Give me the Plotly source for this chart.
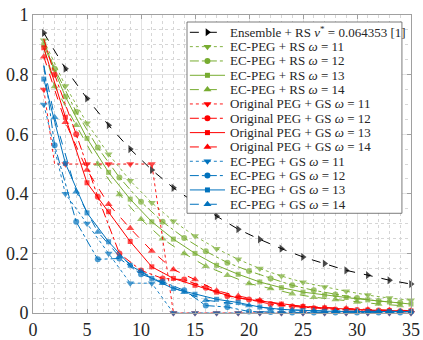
import plotly.graph_objects as go

# marker positions
ODD = [1, 3, 5, 7, 9, 11, 13, 15, 17, 19, 21, 23, 25, 27, 29, 31, 33, 35]
EVEN = [1, 2, 4, 6, 8, 10, 12, 14, 16, 18, 20, 22, 24, 26, 28, 30, 32, 34]
STEP = [1, 2, 3, 5, 7, 9, 11, 13, 15, 17, 19, 21, 23, 25, 27, 29, 31, 33, 35]

ensemble = [0.94, 0.82, 0.72, 0.63, 0.55, 0.48, 0.42, 0.37, 0.325, 0.281, 0.247,
            0.216, 0.188, 0.166, 0.143, 0.127, 0.11, 0.097]

rs_w11 = [0.915, 0.762, 0.637, 0.533, 0.444, 0.37, 0.308, 0.258, 0.216, 0.18, 0.149,
          0.124, 0.103, 0.087, 0.073, 0.06, 0.05, 0.043]
rs_w12 = [0.91, 0.82, 0.675, 0.555, 0.455, 0.373, 0.306, 0.252, 0.207, 0.169, 0.141,
          0.116, 0.093, 0.076, 0.062, 0.05, 0.04, 0.034]
rs_w13 = [0.90, 0.726, 0.586, 0.472, 0.382, 0.306, 0.248, 0.2, 0.16, 0.13, 0.104,
          0.085, 0.07, 0.06, 0.052, 0.044, 0.037, 0.03]
rs_w14 = [0.89, 0.76, 0.63, 0.5, 0.398, 0.315, 0.249, 0.2, 0.157, 0.127, 0.099,
          0.082, 0.065, 0.053, 0.045, 0.037, 0.03, 0.025]

orig_w11 = [0.75, 0.5, 0.5, 0.5, 0.5, 0.5, 0.5, 0, 0, 0, 0, 0, 0, 0, 0, 0, 0, 0, 0]
orig_w12 = [0.92, 0.8, 0.6, 0.39, 0.2, 0.143, 0.116, 0.112, 0.085, 0.057, 0.045,
            0.03, 0.022, 0.016, 0.012, 0.01, 0.008, 0.006]
orig_w13 = [0.89, 0.657, 0.437, 0.34, 0.24, 0.155, 0.116, 0.093, 0.07, 0.05, 0.04,
            0.03, 0.022, 0.017, 0.013, 0.01, 0.008, 0.007]
orig_w14 = [0.86, 0.64, 0.48, 0.365, 0.284, 0.208, 0.146, 0.112, 0.075, 0.057, 0.043,
            0.028, 0.022, 0.018, 0.015, 0.012, 0.01, 0.008]

gs_w11 = [0.70, 0.40, 0.30, 0.20, 0.10, 0.10, 0, 0, 0, 0, 0, 0, 0, 0, 0, 0, 0, 0]
gs_w12 = [0.83, 0.563, 0.306, 0.18, 0.183, 0.13, 0.105, 0.076, 0.025, 0.02, 0.005,
          0.003, 0.002, 0.002, 0.002, 0.002, 0.002, 0.002]
gs_w13 = [0.785, 0.502, 0.336, 0.239, 0.16, 0.116, 0.082, 0.063, 0.046, 0.035, 0.02,
          0.012, 0.008, 0.006, 0.005, 0.005, 0.005, 0.005]
gs_w14 = [0.83, 0.657, 0.407, 0.272, 0.19, 0.14, 0.1, 0.07, 0.043, 0.035, 0.025,
          0.015, 0.01, 0.008, 0.006, 0.006, 0.006, 0.006]

X_TICKS = [0, 5, 10, 15, 20, 25, 30, 35]
Y_TICKS = [0, 0.2, 0.4, 0.6, 0.8, 1]

GREEN = "#77AC30"
RED = "#FF0000"
BLUE = "#0072BD"
FONT = "'Liberation Serif', 'DejaVu Serif', serif"

# (label, x, y, parity of marker positions, color, dash, symbol, marker size)
SERIES = [
    ("Ensemble + RS <i>ν</i><sup>*</sup> = 0.064353 [1]", ODD, ensemble, 1, "black", "dash", "triangle-right", 7),
    ("EC-PEG + RS <i>ω</i> = 11", ODD, rs_w11, 1, GREEN, "dot", "triangle-down", 7),
    ("EC-PEG + RS <i>ω</i> = 12", EVEN, rs_w12, 0, GREEN, "dashdot", "circle", 6),
    ("EC-PEG + RS <i>ω</i> = 13", ODD, rs_w13, 1, GREEN, "solid", "square", 5),
    ("EC-PEG + RS <i>ω</i> = 14", EVEN, rs_w14, 0, GREEN, "dash", "triangle-up", 7),
    ("Original PEG + GS <i>ω</i> = 11", STEP, orig_w11, 1, RED, "dot", "triangle-down", 7),
    ("Original PEG + GS <i>ω</i> = 12", EVEN, orig_w12, 0, RED, "dashdot", "circle", 6),
    ("Original PEG + GS <i>ω</i> = 13", ODD, orig_w13, 1, RED, "solid", "square", 5),
    ("Original PEG + GS <i>ω</i> = 14", ODD, orig_w14, 1, RED, "dash", "triangle-up", 7),
    ("EC-PEG + GS <i>ω</i> = 11", ODD, gs_w11, 1, BLUE, "dot", "triangle-down", 7),
    ("EC-PEG + GS <i>ω</i> = 12", EVEN, gs_w12, 0, BLUE, "dashdot", "circle", 6),
    ("EC-PEG + GS <i>ω</i> = 13", ODD, gs_w13, 1, BLUE, "solid", "square", 5),
    ("EC-PEG + GS <i>ω</i> = 14", EVEN, gs_w14, 0, BLUE, "dash", "triangle-up", 7),
]

fig = go.Figure()

for label, xs, ys, parity, color, dash, symbol, msize in SERIES:
    sizes = [msize if x % 2 == parity else 0 for x in xs]
    fig.add_trace(go.Scatter(
        x=xs, y=ys, mode="lines+markers", name=label,
        line=dict(color=color, dash=dash, width=1 if dash != "dot" else 0.9),
        marker=dict(symbol=symbol, size=sizes, color=color, line=dict(width=0)),
        cliponaxis=False, showlegend=False,
    ))

# hand-drawn legend on an overlay axis (0..1 == plot area)
BOX = dict(x0=0.4074, x1=0.976, y0=0.3346, y1=0.9765)
fig.add_trace(go.Scatter(
    x=[BOX["x0"], BOX["x1"], BOX["x1"], BOX["x0"], BOX["x0"]],
    y=[BOX["y0"], BOX["y0"], BOX["y1"], BOX["y1"], BOX["y0"]],
    mode="lines", fill="toself", fillcolor="white",
    line=dict(color="#5a5a5a", width=0.8),
    xaxis="x2", yaxis="y2", hoverinfo="skip", showlegend=False,
))

row0_px, row_step_px = 32.3, 14.33
plot_top, plot_h = 15, 298
for i, (label, xs, ys, parity, color, dash, symbol, msize) in enumerate(SERIES):
    yy = 1 - (row0_px + i * row_step_px - plot_top) / plot_h
    fig.add_trace(go.Scatter(
        x=[0.415, 0.508], y=[yy, yy], mode="lines",
        line=dict(color=color, dash=dash, width=1 if dash != "dot" else 0.9),
        xaxis="x2", yaxis="y2", hoverinfo="skip", showlegend=False,
    ))
    fig.add_trace(go.Scatter(
        x=[0.4615], y=[yy], mode="markers",
        marker=dict(symbol=symbol, size=msize, color=color, line=dict(width=0)),
        xaxis="x2", yaxis="y2", hoverinfo="skip", showlegend=False,
    ))
    fig.add_annotation(
        x=0.516, y=yy, xref="paper", yref="paper", text=label,
        showarrow=False, xanchor="left", yanchor="middle",
        font=dict(family=FONT, size=13, color="#262626"),
    )

axis_common = dict(
    showline=True, linecolor="#a0a0a0", linewidth=1, mirror="ticks",
    ticks="inside", ticklen=4, tickcolor="#a0a0a0",
    showgrid=True, gridcolor="#e2e2e2", gridwidth=1,
    zeroline=False, automargin=False,
    tickfont=dict(family=FONT, size=18, color="#262626"),
)

fig.update_layout(
    width=423, height=340,
    margin=dict(l=33, r=12, t=15, b=27),
    paper_bgcolor="white", plot_bgcolor="white",
    showlegend=False,
    font=dict(family=FONT),
    xaxis=dict(range=[0, 35], tickvals=X_TICKS, **axis_common,
               minor=dict(dtick=1, showgrid=True, gridcolor="#d6d6d6", griddash="dot")),
    yaxis=dict(range=[0, 1], tickvals=Y_TICKS, ticktext=["0", "0.2", "0.4", "0.6", "0.8", "1"],
               **axis_common,
               minor=dict(dtick=0.05, showgrid=True, gridcolor="#d6d6d6", griddash="dot")),
    xaxis2=dict(range=[0, 1], overlaying="x", visible=False, fixedrange=True),
    yaxis2=dict(range=[0, 1], overlaying="y", visible=False, fixedrange=True),
)

fig.write_html("out.html", config={"displayModeBar": False},
               post_script="document.body.style.margin = '0';")
